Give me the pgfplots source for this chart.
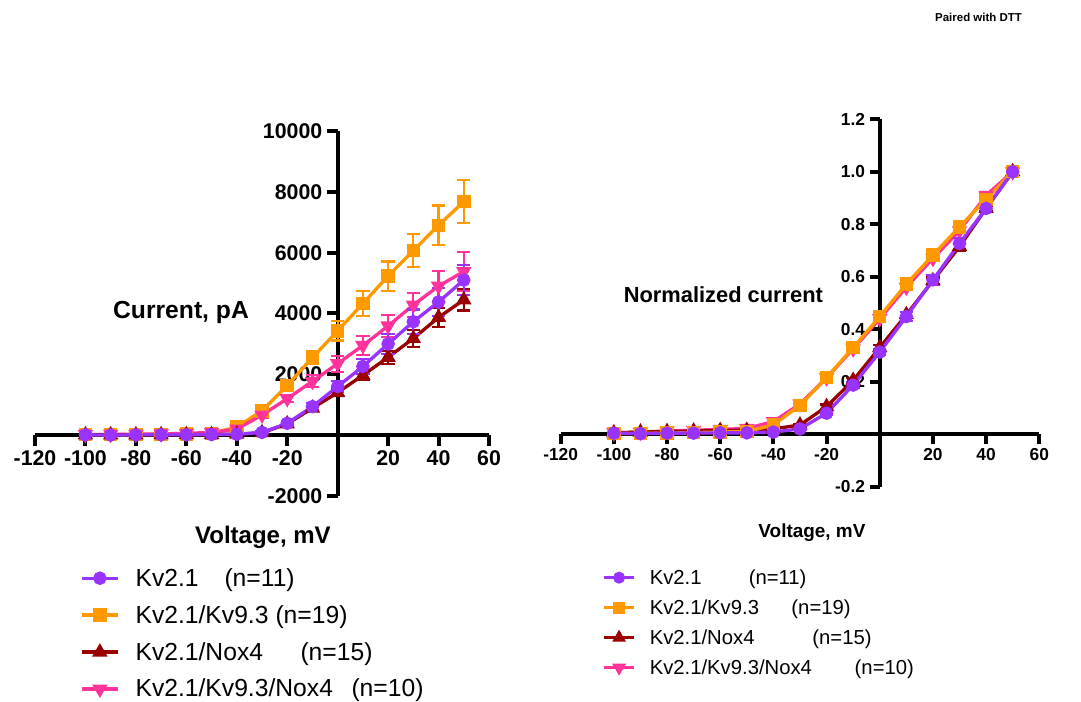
\documentclass[border=0pt]{standalone}
\usepackage{pgfplots}
\pgfplotsset{compat=1.18}
\usepackage{fontspec}
\setmainfont{Liberation Sans}

\definecolor{kvpurple}{HTML}{9933FF}
\definecolor{kvorange}{HTML}{FF9900}
\definecolor{kvred}{HTML}{990000}
\definecolor{kvpink}{HTML}{FF3399}

\pgfplotsset{
  ivaxis/.style={
    axis lines=middle,
    axis line style={-, line width=3pt},
    tick align=outside,
    major tick length=8pt,
    every tick/.style={black, line width=3pt},
    clip=false,
    scale only axis,
    xmin=-120, xmax=60,
    xtick={-120,-100,-80,-60,-40,-20,20,40,60},
    minor tick num=0,
    scaled ticks=false,
    /pgf/number format/assume math mode=true,
  },
  errs/.style={
    error bars/y dir=both, error bars/y explicit,
    error bars/error bar style={line width=1.6pt, solid},
    error bars/error mark options={rotate=90, line width=1.6pt, mark size=5pt},
  },
  kvA/.style={kvpurple, line width=2.5pt, mark=*, mark size=3.8pt, mark options={solid}},
  kvB/.style={kvorange, line width=2.5pt, mark=square*, mark size=3.8pt, mark options={solid}},
  kvC/.style={kvred, line width=2.5pt, mark=triangle*, mark size=4.2pt, mark options={solid}},
  kvD/.style={kvpink, line width=2.5pt, mark=triangle*, mark size=4.2pt, mark options={solid, rotate=180}},
}

\begin{document}
\begin{tikzpicture}
\useasboundingbox (0pt,0pt) rectangle (810.75pt,526.5pt);

% ---------------- absolute current ----------------
\begin{axis}[
  ivaxis,
  at={(26.25pt,154.5pt)}, anchor=south west,
  width=340.5pt, height=273.75pt,
  ymin=-2000, ymax=10000,
  ytick={-2000,2000,4000,6000,8000,10000},
  tick label style={font=\fontsize{16}{18}\selectfont\bfseries},
  /pgf/number format/fixed, /pgf/number format/1000 sep={},
  legend cell align=left,
  legend style={at={(0.099,-0.19)}, anchor=north west, draw=none, fill=none,
    inner sep=0pt, row sep=8.8pt, column sep=0pt,
    font=\fontsize{18.5}{21}\selectfont,
    nodes={inner sep=2pt}},
  legend image code/.code={\draw[mark repeat=2, mark phase=2, #1]
    plot coordinates {(0pt,0pt) (13.5pt,0pt) (27pt,0pt)};},
]
\addlegendimage{kvA}
\addlegendentry{\hspace{10pt}\makebox[66.75pt][l]{Kv2.1}(n=11)}
\addlegendimage{kvB}
\addlegendentry{\hspace{10pt}\makebox[105pt][l]{Kv2.1/Kv9.3}(n=19)}
\addlegendimage{kvC}
\addlegendentry{\hspace{10pt}\makebox[123.75pt][l]{Kv2.1/Nox4}(n=15)}
\addlegendimage{kvD}
\addlegendentry{\hspace{10pt}\makebox[162pt][l]{Kv2.1/Kv9.3/Nox4}(n=10)}

% Kv2.1/Kv9.3
\addplot[kvB, forget plot, errs] coordinates {
  (-100,15) +- (0,10) (-90,15) +- (0,10) (-80,20) +- (0,10) (-70,30) +- (0,10)
  (-60,40) +- (0,15) (-50,60) +- (0,20) (-40,270) +- (0,50) (-30,800) +- (0,100)
  (-20,1630) +- (0,150) (-10,2550) +- (0,200) (0,3430) +- (0,320) (10,4330) +- (0,400)
  (20,5230) +- (0,480) (30,6070) +- (0,550) (40,6900) +- (0,650) (50,7680) +- (0,700)
};
% Kv2.1/Kv9.3/Nox4
\addplot[kvD, forget plot, errs] coordinates {
  (-100,20) +- (0,15) (-90,25) +- (0,15) (-80,30) +- (0,20) (-70,40) +- (0,25)
  (-60,60) +- (0,40) (-50,90) +- (0,50) (-40,200) +- (0,50) (-30,660) +- (0,80)
  (-20,1200) +- (0,120) (-10,1770) +- (0,200) (0,2350) +- (0,260) (10,2950) +- (0,320)
  (20,3590) +- (0,370) (30,4280) +- (0,400) (40,4900) +- (0,500) (50,5380) +- (0,640)
};
% Kv2.1/Nox4
\addplot[kvC, forget plot, errs] coordinates {
  (-100,10) +- (0,5) (-90,10) +- (0,5) (-80,10) +- (0,5) (-70,15) +- (0,5)
  (-60,15) +- (0,8) (-50,20) +- (0,10) (-40,30) +- (0,10) (-30,80) +- (0,20)
  (-20,370) +- (0,50) (-10,890) +- (0,80) (0,1400) +- (0,120) (10,1970) +- (0,170)
  (20,2560) +- (0,220) (30,3180) +- (0,270) (40,3870) +- (0,320) (50,4450) +- (0,350)
};
% Kv2.1
\addplot[kvA, forget plot, errs] coordinates {
  (-100,10) +- (0,5) (-90,5) +- (0,5) (-80,10) +- (0,5) (-70,15) +- (0,5)
  (-60,15) +- (0,8) (-50,20) +- (0,10) (-40,30) +- (0,10) (-30,90) +- (0,30)
  (-20,390) +- (0,60) (-10,940) +- (0,120) (0,1600) +- (0,180) (10,2260) +- (0,250)
  (20,3000) +- (0,330) (30,3730) +- (0,400) (40,4380) +- (0,460) (50,5100) +- (0,500)
};

\node[font=\fontsize{18.5}{21}\selectfont\bfseries] at (rel axis cs:0.3216,0.504) {Current, pA};
\node[font=\fontsize{18}{21}\selectfont\bfseries] at (rel axis cs:0.502,-0.112) {Voltage, mV};
\end{axis}

% ---------------- normalized current ----------------
\begin{axis}[
  ivaxis,
  at={(420.5pt,161.5pt)}, anchor=south west,
  width=358.95pt, height=275.55pt,
  ymin=-0.2, ymax=1.2,
  ytick={-0.2,0.2,0.4,0.6,0.8,1.0,1.2},
  major tick length=7.5pt,
  tick label style={font=\fontsize{13}{15}\selectfont\bfseries},
  yticklabel style={/pgf/number format/fixed, /pgf/number format/fixed zerofill, /pgf/number format/precision=1},
  legend cell align=left,
  legend style={at={(0.0867,-0.217)}, anchor=north west, draw=none, fill=none,
    inner sep=0pt, row sep=6pt, column sep=0pt,
    font=\fontsize{15.2}{18}\selectfont,
    nodes={inner sep=2pt}},
  legend image code/.code={\draw[mark repeat=2, mark phase=2, #1]
    plot coordinates {(0pt,0pt) (11.25pt,0pt) (22.5pt,0pt)};},
]
\addlegendimage{kvA, mark size=3.2pt}
\addlegendentry{\hspace{8.5pt}\makebox[74.25pt][l]{Kv2.1}(n=11)}
\addlegendimage{kvB, mark size=3.2pt}
\addlegendentry{\hspace{8.5pt}\makebox[106.3pt][l]{Kv2.1/Kv9.3}(n=19)}
\addlegendimage{kvC, mark size=3.5pt}
\addlegendentry{\hspace{8.5pt}\makebox[122pt][l]{Kv2.1/Nox4}(n=15)}
\addlegendimage{kvD, mark size=3.5pt}
\addlegendentry{\hspace{8.5pt}\makebox[153.75pt][l]{Kv2.1/Kv9.3/Nox4}(n=10)}

% Kv2.1/Kv9.3/Nox4
\addplot[kvD, forget plot, errs] coordinates {
  (-100,0.005) +- (0,0.003) (-90,0.008) +- (0,0.003) (-80,0.012) +- (0,0.004) (-70,0.015) +- (0,0.004)
  (-60,0.018) +- (0,0.005) (-50,0.022) +- (0,0.006) (-40,0.048) +- (0,0.008) (-30,0.115) +- (0,0.008)
  (-20,0.215) +- (0,0.008) (-10,0.325) +- (0,0.008) (0,0.44) +- (0,0.008) (10,0.56) +- (0,0.008)
  (20,0.67) +- (0,0.008) (30,0.775) +- (0,0.008) (40,0.91) +- (0,0.008) (50,1.0) +- (0,0)
};
% Kv2.1/Nox4
\addplot[kvC, forget plot, errs] coordinates {
  (-100,0.005) +- (0,0.002) (-90,0.008) +- (0,0.002) (-80,0.01) +- (0,0.002) (-70,0.012) +- (0,0.002)
  (-60,0.014) +- (0,0.003) (-50,0.015) +- (0,0.003) (-40,0.02) +- (0,0.004) (-30,0.035) +- (0,0.005)
  (-20,0.105) +- (0,0.008) (-10,0.205) +- (0,0.01) (0,0.33) +- (0,0.01) (10,0.455) +- (0,0.012)
  (20,0.585) +- (0,0.012) (30,0.715) +- (0,0.015) (40,0.86) +- (0,0.01) (50,1.0) +- (0,0)
};
% Kv2.1/Kv9.3
\addplot[kvB, forget plot, errs] coordinates {
  (-100,0.002) +- (0,0.002) (-90,0.003) +- (0,0.002) (-80,0.004) +- (0,0.002) (-70,0.006) +- (0,0.002)
  (-60,0.008) +- (0,0.003) (-50,0.01) +- (0,0.003) (-40,0.035) +- (0,0.005) (-30,0.11) +- (0,0.006)
  (-20,0.215) +- (0,0.007) (-10,0.33) +- (0,0.008) (0,0.448) +- (0,0.008) (10,0.572) +- (0,0.008)
  (20,0.682) +- (0,0.008) (30,0.79) +- (0,0.008) (40,0.895) +- (0,0.006) (50,1.0) +- (0,0)
};
% Kv2.1
\addplot[kvA, forget plot, errs] coordinates {
  (-100,0.004) +- (0,0.002) (-90,0.002) +- (0,0.002) (-80,0.004) +- (0,0.002) (-70,0.004) +- (0,0.002)
  (-60,0.005) +- (0,0.003) (-50,0.005) +- (0,0.003) (-40,0.008) +- (0,0.004) (-30,0.02) +- (0,0.005)
  (-20,0.08) +- (0,0.008) (-10,0.187) +- (0,0.01) (0,0.313) +- (0,0.012) (10,0.448) +- (0,0.018)
  (20,0.588) +- (0,0.018) (30,0.727) +- (0,0.022) (40,0.86) +- (0,0.012) (50,1.0) +- (0,0)
};

\node[font=\fontsize{16.4}{19}\selectfont\bfseries] at (rel axis cs:0.340,0.522) {Normalized current};
\node[font=\fontsize{14.2}{17}\selectfont\bfseries] at (rel axis cs:0.525,-0.125) {Voltage, mV};
\end{axis}

\node[font=\fontsize{8.6}{10}\selectfont\bfseries] at (733.9pt,513.75pt) {Paired with DTT};
\end{tikzpicture}
\end{document}
